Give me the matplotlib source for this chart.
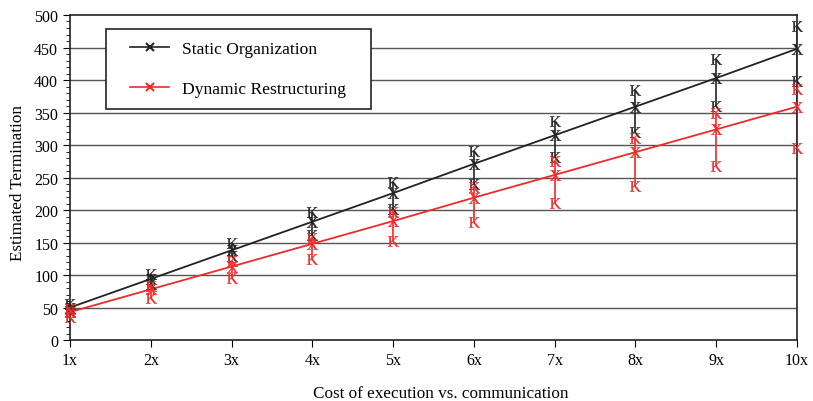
import matplotlib.pyplot as plt
from matplotlib.font_manager import FontProperties
from matplotlib.textpath import TextPath
from matplotlib.transforms import Affine2D
from matplotlib.lines import Line2D
from matplotlib.legend_handler import HandlerLine2D

plt.rcParams['font.family'] = 'Liberation Serif'

# Данные
x_labels = ['1x', '2x', '3x', '4x', '5x', '6x', '7x', '8x', '9x', '10x']
x_pos = list(range(1, 11))

static_mean = [50, 94, 138, 182, 226, 271, 315, 359, 403, 448]
static_hi = [55, 101, 149, 197, 243, 291, 337, 385, 433, 483]
static_lo = [45, 86, 129, 161, 201, 240, 281, 320, 360, 399]

dynamic_mean = [43, 78, 113, 148, 183, 219, 254, 289, 324, 359]
dynamic_hi = [48, 83, 121, 157, 197, 235, 276, 311, 350, 386]
dynamic_lo = [35, 65, 95, 125, 153, 181, 211, 237, 267, 295]


def glyph_marker(ch):
    # маркер из символа шрифта (с засечками)
    p = TextPath((0, 0), ch, size=10, prop=FontProperties(family='Liberation Serif'))
    ext = p.get_extents()
    return p.transformed(Affine2D().translate(-(ext.x0 + ext.x1) / 2, -(ext.y0 + ext.y1) / 2))


mk_x = glyph_marker('X')
mk_k = glyph_marker('K')

fig = plt.figure(figsize=(8.13, 4.02), dpi=100)
ax = fig.add_axes([0.0861, 0.1517, 0.8942, 0.8085])

for y in range(50, 500, 50):
    ax.axhline(y, color='#555555', lw=1.0, zorder=0)

series = [
    (static_mean, static_hi, static_lo, '#222222', 'Static Organization'),
    (dynamic_mean, dynamic_hi, dynamic_lo, '#ee2a2a', 'Dynamic Restructuring'),
]
handles = []
for mean, hi, lo, col, name in series:
    ax.vlines(x_pos, lo, hi, color=col, lw=1.2, zorder=2)
    ax.plot(x_pos, mean, color=col, lw=1.3, zorder=3)
    for vals, mk in ((mean, mk_x), (hi, mk_k), (lo, mk_k)):
        ax.plot(x_pos, vals, ls='none', color=col, marker=mk, ms=8.5,
                mew=0.2, zorder=4, clip_on=False)
    handles.append(Line2D([], [], color=col, lw=1.2, marker='x', ms=5.5, mew=1.5,
                          label=name + '   '))

ax.set_xlim(1, 10)
ax.set_ylim(0, 500)
ax.set_xticks(x_pos)
ax.set_xticklabels(x_labels)
ax.set_yticks(range(0, 501, 50))
ax.set_yticks(range(0, 501, 10), minor=True)
ax.tick_params(axis='both', labelsize=11.5, direction='out', length=5, width=0.8)
ax.tick_params(axis='y', which='minor', length=3, width=0.6)
for s in ax.spines.values():
    s.set_linewidth(1.2)
    s.set_color('#222222')

ax.set_xlabel('Cost of execution vs. communication', fontsize=12.3)
ax.set_ylabel('Estimated Termination', fontsize=12.3)
ax.xaxis.set_label_coords(0.51, -0.138)
ax.yaxis.set_label_coords(-0.061, 0.486)

leg = ax.legend(handles=handles, loc='upper left', bbox_to_anchor=(0.0495, 0.957),
                fontsize=12.6, frameon=True, fancybox=False, borderpad=0.7,
                labelspacing=1.33, handlelength=2.9, handletextpad=0.75, borderaxespad=0,
                handler_map={Line2D: HandlerLine2D(xpad=0.69)})
leg.get_frame().set_edgecolor('#222222')
leg.get_frame().set_linewidth(1.2)
leg.get_frame().set_alpha(1)

fig.savefig('out.png', dpi=100)
